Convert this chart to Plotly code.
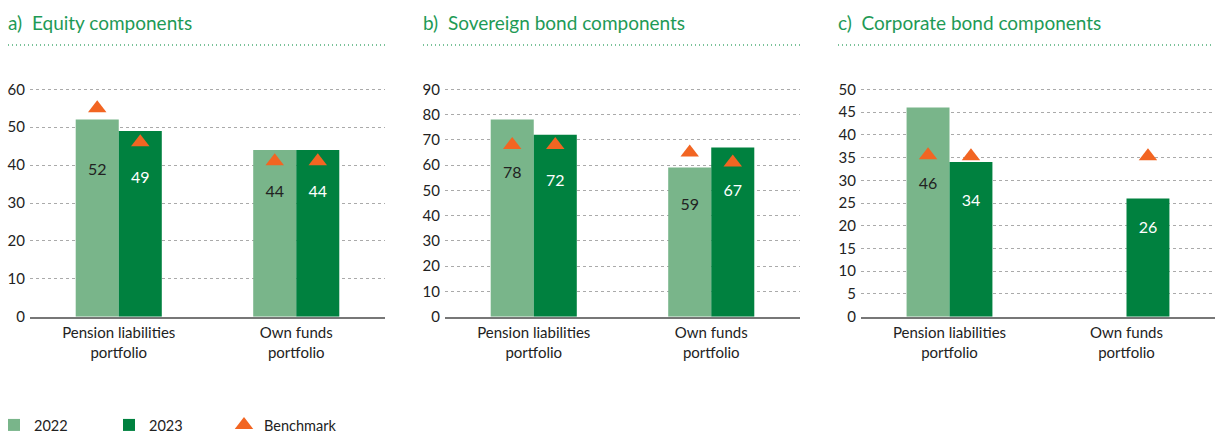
import plotly.graph_objects as go
from plotly.subplots import make_subplots

categories = ["Pension liabilities<br>portfolio", "Own funds<br>portfolio"]

# values per panel: [Pension liabilities, Own funds]
equity_2022 = [52, 44]
equity_2023 = [49, 44]
equity_bench_2022 = [55, 41]
equity_bench_2023 = [46, 41]

sov_2022 = [78, 59]
sov_2023 = [72, 67]
sov_bench_2022 = [68, 65]
sov_bench_2023 = [68, 61]

corp_2022 = [46, None]
corp_2023 = [34, 26]
corp_bench_2022 = [35.5, None]
corp_bench_2023 = [35.3, 35.3]

panel_titles = ["a)\u00a0 Equity components", "b)\u00a0 Sovereign bond components", "c)\u00a0 Corporate bond components"]
y_max = [60, 90, 50]
y_dtick = [10, 10, 5]

LIGHT = "#79B58A"
DARK = "#00813F"
ORANGE = "#F26522"
TITLE_GREEN = "#1E9A56"
TEXT = "#222222"
FONT = "Lato"

W, H = 1215, 434

panels = [
    (equity_2022, equity_2023, equity_bench_2022, equity_bench_2023),
    (sov_2022, sov_2023, sov_bench_2022, sov_bench_2023),
    (corp_2022, corp_2023, corp_bench_2022, corp_bench_2023),
]

fig = make_subplots(rows=1, cols=3)

LABEL_FRAC = 0.74   # label sits at this fraction of the bar height
BENCH_GAP = 0.13    # ...but at least this fraction of the axis range below the benchmark


def label_y(vals, bench, ymax):
    out = []
    for v, b in zip(vals, bench):
        if v is None:
            out.append(None)
            continue
        y = v * LABEL_FRAC
        if b is not None and b < v:
            y = min(y, b - BENCH_GAP * ymax)
        out.append(y)
    return out


for i, (v22, v23, b22, b23) in enumerate(panels):
    col = i + 1
    show = i == 0
    fig.add_trace(go.Bar(x=categories, y=v22, name="2022", marker_color=LIGHT,
                         marker_line_width=0, offsetgroup="g1", showlegend=show,
                         legendrank=1), row=1, col=col)
    fig.add_trace(go.Bar(x=categories, y=v23, name="2023", marker_color=DARK,
                         marker_line_width=0, offsetgroup="g2", showlegend=show,
                         legendrank=2), row=1, col=col)
    fig.add_trace(go.Scatter(x=categories, y=b22, mode="markers", name="Benchmark",
                             marker=dict(symbol="triangle-up", size=16, color=ORANGE),
                             offsetgroup="g1", showlegend=show, legendrank=3), row=1, col=col)
    fig.add_trace(go.Scatter(x=categories, y=b23, mode="markers", name="Benchmark",
                             marker=dict(symbol="triangle-up", size=16, color=ORANGE),
                             offsetgroup="g2", showlegend=False), row=1, col=col)
    fig.add_trace(go.Scatter(x=categories, y=label_y(v22, b22, y_max[i]), mode="text",
                             text=[("" if v is None else str(v)) for v in v22],
                             textfont=dict(family=FONT, size=16, color=TEXT),
                             offsetgroup="g1", showlegend=False, hoverinfo="skip"), row=1, col=col)
    fig.add_trace(go.Scatter(x=categories, y=label_y(v23, b23, y_max[i]), mode="text",
                             text=[("" if v is None else str(v)) for v in v23],
                             textfont=dict(family=FONT, size=16, color="white"),
                             offsetgroup="g2", showlegend=False, hoverinfo="skip"), row=1, col=col)

x_domains_px = [(30, 385), (445, 800), (861, 1215)]
title_lines_px = [(8, 385), (423, 801), (838, 1213)]
y_dom = [1 - 316.7 / H, 1 - 85.5 / H]

layout_axes = {}
for i in range(3):
    sfx = "" if i == 0 else str(i + 1)
    x0, x1 = x_domains_px[i]
    layout_axes["xaxis" + sfx] = dict(
        domain=[x0 / W, x1 / W], showline=True, linecolor="#777777", linewidth=1.5,
        ticks="", ticklabelstandoff=2, tickfont=dict(family=FONT, size=15, color=TEXT),
        showgrid=False, fixedrange=True, automargin=False,
    )
    layout_axes["yaxis" + sfx] = dict(
        domain=y_dom, range=[0, y_max[i] * (1 + 1 / 60)], dtick=y_dtick[i], tick0=0,
        showgrid=True, gridcolor="#AAAAAA", griddash="3px,3px", gridwidth=1,
        zeroline=False, showline=False, ticks="", ticklabelstandoff=4,
        tickfont=dict(family=FONT, size=15, color=TEXT), fixedrange=True, automargin=False,
    )

annotations = []
shapes = []
for i in range(3):
    lx0, lx1 = title_lines_px[i]
    annotations.append(dict(
        text=panel_titles[i], x=(lx0 - 2) / W, y=1 - 22 / H, xref="paper", yref="paper",
        xanchor="left", yanchor="middle", showarrow=False,
        font=dict(family=FONT, size=19, color=TITLE_GREEN),
    ))
    shapes.append(dict(
        type="line", xref="paper", yref="paper", x0=lx0 / W, x1=lx1 / W,
        y0=1 - 45 / H, y1=1 - 45 / H,
        line=dict(color="#4FAE78", width=1.5, dash="1px,3px"),
    ))

fig.update_layout(
    width=W, height=H,
    margin=dict(l=0, r=0, t=0, b=0, autoexpand=False),
    paper_bgcolor="white", plot_bgcolor="white",
    barmode="group", bargap=0.515, bargroupgap=0,
    scattermode="group",
    annotations=annotations, shapes=shapes,
    font=dict(family=FONT, size=14, color=TEXT),
    legend=dict(
        orientation="h", x=-6 / W, y=1 - 425 / H, xanchor="left", yanchor="middle",
        font=dict(family=FONT, size=14.5, color=TEXT),
        entrywidth=70, entrywidthmode="pixels", traceorder="normal",
        itemclick=False, itemdoubleclick=False,
    ),
    **layout_axes,
)

fig.write_html("out.html", config={"displayModeBar": False})
